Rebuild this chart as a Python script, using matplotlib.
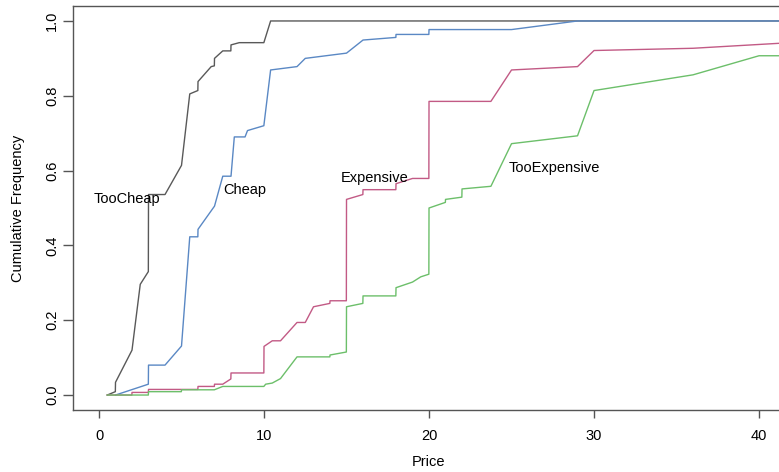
import matplotlib
matplotlib.use("Agg")
import matplotlib.pyplot as plt

plt.rcParams['font.family'] = ['Liberation Sans', 'DejaVu Sans']

# 価格と累積度数
too_cheap_price = [0.5, 0.99, 1.0, 2.0, 2.5, 2.99, 3.0, 4.0, 5.0, 5.5, 5.99, 6.0,
                   6.8, 6.99, 7.0, 7.5, 7.99, 8.0, 8.5, 9.99, 10.4, 45.0]
too_cheap_freq = [0.0, 0.009, 0.034, 0.12, 0.296, 0.33, 0.536, 0.536, 0.614, 0.805, 0.814, 0.838,
                  0.878, 0.88, 0.90, 0.92, 0.92, 0.936, 0.942, 0.942, 1.0, 1.0]

cheap_price = [1.0, 2.99, 3.0, 4.0, 5.0, 5.5, 5.99, 6.0, 7.0, 7.5, 8.0, 8.2, 8.85, 9.0,
               9.99, 10.4, 12.0, 12.5, 15.0, 16.0, 17.99, 18.0, 19.99, 20.0, 25.0, 29.0, 45.0]
cheap_freq = [0.0, 0.029, 0.08, 0.08, 0.131, 0.423, 0.423, 0.443, 0.505, 0.585, 0.585, 0.69, 0.69, 0.707,
              0.72, 0.869, 0.878, 0.90, 0.914, 0.949, 0.956, 0.964, 0.964, 0.977, 0.977, 1.0, 1.0]

expensive_price = [0.5, 1.99, 2.0, 2.99, 3.0, 5.99, 6.0, 6.99, 7.0, 7.5, 7.99, 8.0, 9.99, 10.0,
                   10.5, 11.0, 12.0, 12.5, 13.0, 13.99, 14.0, 14.99, 15.0, 15.99, 16.0, 17.99,
                   18.0, 19.0, 19.99, 20.0, 23.75, 25.0, 29.0, 30.0, 36.0, 41.5]
expensive_freq = [0.0, 0.0, 0.007, 0.007, 0.015, 0.015, 0.023, 0.023, 0.029, 0.029, 0.043, 0.059, 0.059, 0.13,
                  0.145, 0.145, 0.194, 0.194, 0.236, 0.245, 0.252, 0.252, 0.523, 0.536, 0.549, 0.549,
                  0.565, 0.579, 0.579, 0.785, 0.785, 0.869, 0.878, 0.921, 0.927, 0.941]

too_exp_price = [0.5, 2.99, 3.0, 4.99, 5.0, 6.99, 7.5, 9.99, 10.1, 10.5, 11.0, 12.0, 13.99, 14.0,
                 14.99, 15.0, 15.99, 16.0, 17.99, 18.0, 19.0, 19.5, 19.99, 20.0, 20.99, 21.0,
                 21.99, 22.0, 23.75, 25.0, 29.0, 30.0, 36.0, 40.0, 45.0]
too_exp_freq = [0.0, 0.0, 0.009, 0.009, 0.014, 0.014, 0.023, 0.023, 0.029, 0.032, 0.044, 0.102, 0.102, 0.107,
                0.115, 0.236, 0.245, 0.265, 0.265, 0.287, 0.302, 0.316, 0.323, 0.5, 0.515, 0.523,
                0.529, 0.551, 0.558, 0.672, 0.693, 0.814, 0.856, 0.907, 0.907]

labels = ["TooCheap", "Cheap", "Expensive", "TooExpensive"]
label_x = [1.67, 8.82, 16.7, 27.6]
label_y = [0.525, 0.549, 0.579, 0.608]
x_ticks = [0, 10, 20, 30, 40]
y_ticks = [0.0, 0.2, 0.4, 0.6, 0.8, 1.0]

colors = ["#595959", "#5a88c4", "#c25a85", "#6cbf6a"]

fig = plt.figure(figsize=(7.79, 4.72), dpi=100)
ax = fig.add_axes([73 / 779, 62 / 472, 1 - 73 / 779, 404 / 472])

series = [(too_cheap_price, too_cheap_freq), (cheap_price, cheap_freq),
          (expensive_price, expensive_freq), (too_exp_price, too_exp_freq)]
for (px, fy), c in zip(series, colors):
    ax.plot(px, fy, color=c, lw=1.0)

for t, x, y in zip(labels, label_x, label_y):
    ax.text(x, y, t, ha='center', va='center', fontsize=10.5, color='black')

ax.set_xlim(-1.576, 41.21)
ax.set_ylim(-0.04, 1.04)
ax.set_xticks(x_ticks)
ax.set_yticks(y_ticks)
ax.set_xticklabels([str(v) for v in x_ticks])
ax.set_yticklabels([f"{v:.1f}" for v in y_ticks], rotation=90, va='center')

for s in ['left', 'bottom', 'top']:
    ax.spines[s].set_color('#555555')
    ax.spines[s].set_linewidth(1.0)
ax.spines['right'].set_visible(False)
ax.tick_params(axis='x', direction='out', length=6, width=1.0, color='#555555',
               labelsize=10.5, pad=8)
ax.tick_params(axis='y', direction='out', length=7, width=1.0, color='#555555',
               labelsize=10.5, pad=3)

ax.set_xlabel("Price", fontsize=10.5)
ax.set_ylabel("Cumulative Frequency", fontsize=10.5)
ax.xaxis.set_label_coords(0.503, -0.112)
ax.yaxis.set_label_coords(-0.068, 0.5)

fig.savefig("out.png", dpi=100)
